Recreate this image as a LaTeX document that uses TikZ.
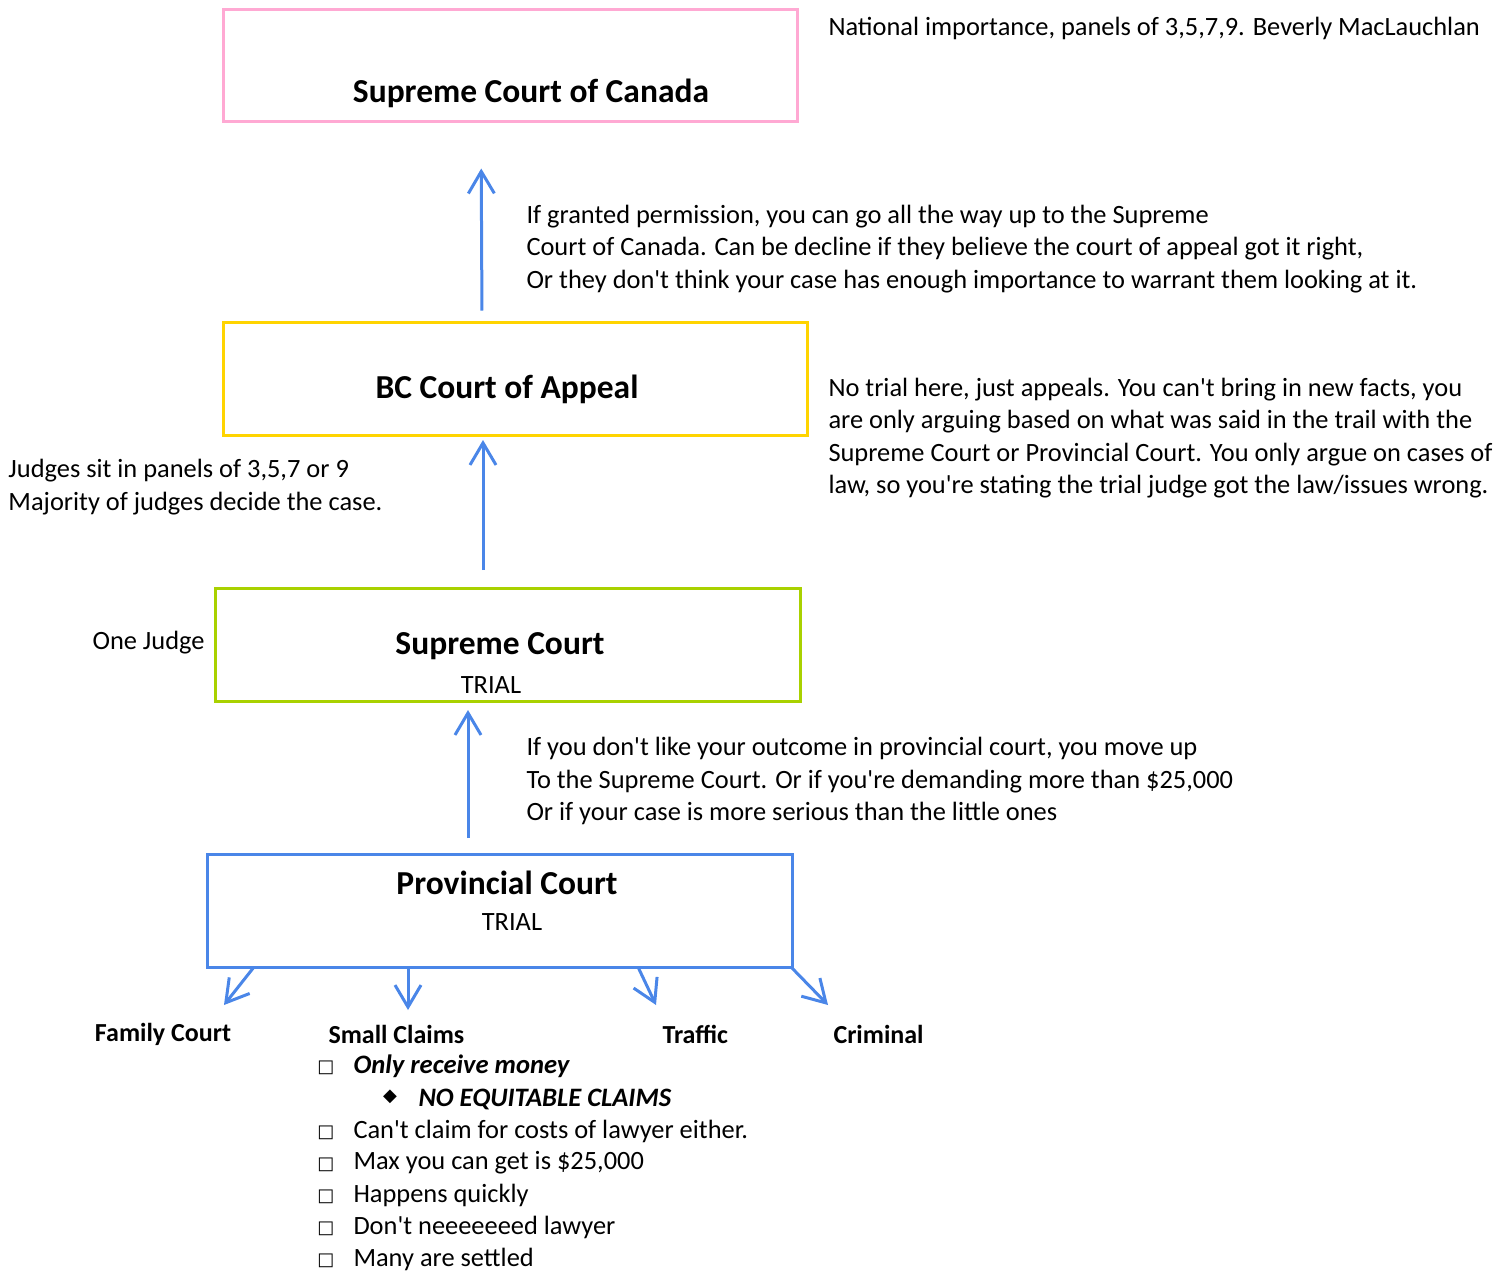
\documentclass[tikz,border=0pt]{standalone}
\usepackage{fontspec}
\setmainfont{Carlito}[Ligatures=TeXOff]
\newfontfamily\symfont{DejaVu Sans}
\usepackage{tikz}
\definecolor{pinkline}{HTML}{FFA9D3}
\definecolor{yellowline}{HTML}{FFD400}
\definecolor{greenline}{HTML}{A9D100}
\definecolor{blueline}{HTML}{4A86E8}
\tikzstyle{court}=[shape=rectangle,
                   line width=3pt,
                   inner sep=0pt]
\tikzstyle{title}=[inner sep=0pt,
                   font=\fontsize{33.5}{40}\selectfont\bfseries]
\tikzstyle{note}=[inner sep=0pt,
                  align=left,
                  font=\fontsize{26.4}{32.5}\selectfont]
\tikzstyle{sub}=[inner sep=0pt,
                 font=\fontsize{26}{30}\selectfont\bfseries]
\tikzstyle{bul}=[inner sep=0pt,
                 font=\fontsize{18}{20}\selectfont\symfont]
\usetikzlibrary{positioning, calc, arrows.meta}

\begin{document}
\begin{tikzpicture}[x=1pt, y=-1pt, >={Straight Barb[length=22pt, width=26pt]}, line width=3pt]

\useasboundingbox (0,0) rectangle (1497,1272);

% courts
\node[court, draw=pinkline, minimum width=574, minimum height=112] (scc) at (510,65) {};
\node[court, draw=yellowline, minimum width=584, minimum height=113] (bcca) at (515,378.5) {};
\node[court, draw=greenline, minimum width=585, minimum height=113] (sc) at (507.5,644.5) {};
\node[court, draw=blueline, minimum width=585, minimum height=113] (prov) at (499.5,910.5) {};

\node[title] (scctxt) at (531,93) {Supreme Court of Canada};
\node[title] (bccatxt) at (507,389) {BC Court of Appeal};
\node[title] (sctxt) at (500,646) {Supreme Court};
\node[note] (sctrial) at (491,685) {TRIAL};
\node[title] (provtxt) at (507,883) {Provincial Court};
\node[note] (provtrial) at (512,922) {TRIAL};

% notes
\node[note, anchor=west] (sccnote) at (827,28) {National importance, panels of 3,5,7,9. Beverly MacLauchlan};
\node[note, anchor=west] (leavenote) at (525,249) {If granted permission, you can go all the way up to the Supreme\\Court of Canada. Can be decline if they believe the court of appeal got it right,\\Or they don't think your case has enough importance to warrant them looking at it.};
\node[note, anchor=west] (appealnote) at (827,438) {No trial here, just appeals. You can't bring in new facts, you\\are only arguing based on what was said in the trail with the\\Supreme Court or Provincial Court. You only argue on cases of\\law, so you're stating the trial judge got the law/issues wrong.};
\node[note, anchor=west] (panelnote) at (7,487) {Judges sit in panels of 3,5,7 or 9\\Majority of judges decide the case.};
\node[note, left=7.5pt of sc.west, yshift=1.5pt] (judgenote) {One Judge};
\node[note, anchor=west] (movenote) at (525,781) {If you don't like your outcome in provincial court, you move up\\To the Supreme Court. Or if you're demanding more than \$25,000\\Or if your case is more serious than the little ones};

% divisions of provincial court
\node[sub] (family) at (163,1034) {Family Court};
\node[sub, anchor=west] (small) at (327,1034) {Small Claims};
\node[sub, anchor=west] (traffic) at (661,1034) {Traffic};
\node[sub, anchor=west] (criminal) at (832,1034) {Criminal};

\coordinate (familytip) at (224,1005);
\coordinate (smalltip) at (408,1010);
\coordinate (traffictip) at (656,1005);
\coordinate (criminaltip) at (828,1005);

% small claims list
\node[bul] (bul1) at (326,1068) {□};
\node[note, anchor=west, font=\fontsize{26.6}{32.5}\selectfont\bfseries\itshape] (item1) at (352,1066) {Only receive money};
\node[bul] (bul2) at (390,1097) {◆};
\node[note, anchor=west, font=\fontsize{26.6}{32.5}\selectfont\bfseries\itshape] (item2) at (417,1099) {NO EQUITABLE CLAIMS};
\foreach \yy/\txt [count=\i from 3] in {1131/{Can't claim for costs of lawyer either.},
    1163/{Max you can get is \$25,000}, 1195/{Happens quickly},
    1227/{Don't neeeeeeed lawyer}, 1259/{Many are settled}}{
  \node[bul] (bul\i) at (326,\yy+2) {□};
  \node[note, anchor=west] (item\i) at (352,\yy) {\txt};
}

% paths
\draw[->, blueline, shorten <=10pt, shorten >=46pt] ([xshift=-33pt]bcca.north) -- ([xshift=-29pt]scc.south);
\draw[->, blueline, shorten <=16.5pt, shorten >=3.5pt] ([xshift=-24.5pt]sc.north) -- ([xshift=-32pt]bcca.south);
\draw[->, blueline, shorten <=14.5pt, shorten >=7.5pt] ([xshift=-31.5pt]prov.north) -- ([xshift=-39.5pt]sc.south);

\draw[->, blueline] ([xshift=48.5pt, yshift=1.5pt]prov.south west) -- (familytip);
\draw[->, blueline] ([xshift=202.5pt, yshift=1.5pt]prov.south west) -- (smalltip);
\draw[->, blueline] ([xshift=432.5pt, yshift=1.5pt]prov.south west) -- (traffictip);
\draw[->, blueline] ([xshift=-2.5pt, yshift=1.5pt]prov.south east) -- (criminaltip);

\end{tikzpicture}
\end{document}
